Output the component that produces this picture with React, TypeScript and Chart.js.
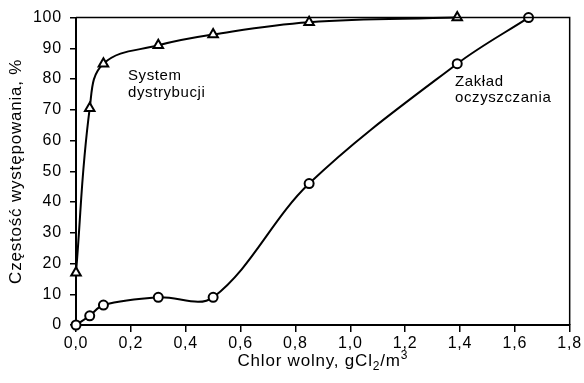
import React, { useEffect, useRef } from "react";
import { Chart, registerables } from "chart.js";

Chart.register(...registerables);

const distX = [0, 0.05, 0.1, 0.3, 0.5, 0.85, 1.39];
const distY = [17, 70.5, 85, 91, 94.5, 98.5, 100];
const plantX = [0, 0.05, 0.1, 0.3, 0.5, 0.85, 1.39, 1.65];
const plantY = [0, 3, 6.5, 9, 9, 46, 85, 100];
const xTicks = [0, 0.2, 0.4, 0.6, 0.8, 1.0, 1.2, 1.4, 1.6, 1.8];
const yTicks = [0, 10, 20, 30, 40, 50, 60, 70, 80, 90, 100];
const distLabel = ["System", "dystrybucji"];
const plantLabel = ["Zakład", "oczyszczania"];
const yTitle = "Częstość występowania, %";

const FONT = "'Liberation Sans', Arial, Helvetica, sans-serif";

export default function App() {
  const ref = useRef<HTMLCanvasElement>(null);
  useEffect(() => {
    document.body.style.margin = "0";
    const canvas = ref.current!;
    const deco = {
      id: "deco",
      beforeLayout(chart: any) {
        chart.ctx.letterSpacing = "0.8px";
      },
      beforeDraw(chart: any) {
        chart.ctx.letterSpacing = "0.8px";
      },
      afterDraw(chart: any) {
        const { ctx, chartArea: a } = chart;
        ctx.save();
        ctx.strokeStyle = "#000";
        ctx.lineWidth = 1.5;
        ctx.beginPath();
        ctx.moveTo(a.left, a.top);
        ctx.lineTo(a.right, a.top);
        ctx.lineTo(a.right, a.bottom);
        ctx.stroke();
        ctx.fillStyle = "#000";
        ctx.letterSpacing = "0.6px";
        // annotations
        ctx.font = `15px ${FONT}`;
        ctx.textAlign = "left";
        ctx.textBaseline = "alphabetic";
        ctx.fillText(distLabel[0], 128, 80);
        ctx.fillText(distLabel[1], 128, 97);
        ctx.fillText(plantLabel[0], 455, 86);
        ctx.fillText(plantLabel[1], 455, 102);
        // y title
        ctx.letterSpacing = "0.8px";
        ctx.font = `17px ${FONT}`;
        ctx.save();
        ctx.translate(16, (a.top + a.bottom) / 2);
        ctx.rotate(-Math.PI / 2);
        ctx.textAlign = "center";
        ctx.textBaseline = "middle";
        ctx.fillText(yTitle, 0, 0);
        ctx.restore();
        // x title with sub/superscript
        const parts: [string, number, number][] = [
          ["Chlor wolny, gCl", 17, 0],
          ["2", 12, 4],
          ["/m", 17, 0],
          ["3", 12, -7],
        ];
        let total = 0;
        for (const [t, s] of parts) {
          ctx.font = `${s}px ${FONT}`;
          total += ctx.measureText(t).width;
        }
        let x = (a.left + a.right) / 2 - total / 2;
        const base = 366;
        ctx.textAlign = "left";
        ctx.textBaseline = "alphabetic";
        for (const [t, s, dy] of parts) {
          ctx.font = `${s}px ${FONT}`;
          ctx.fillText(t, x, base + dy);
          x += ctx.measureText(t).width;
        }
        ctx.restore();
      },
    };
    const mk = (xs: number[], ys: number[]) => xs.map((x, i) => ({ x, y: ys[i] }));
    const chart = new Chart(canvas, {
      type: "line",
      data: {
        datasets: [
          {
            data: mk(distX, distY),
            borderColor: "#000",
            borderWidth: 2,
            tension: 0.4,
            pointStyle: "triangle",
            pointRadius: 5.5,
            pointBorderWidth: 2,
            pointBackgroundColor: "#fff",
            pointBorderColor: "#000",
            clip: false as any,
          },
          {
            data: mk(plantX, plantY),
            borderColor: "#000",
            borderWidth: 2,
            tension: 0.35,
            pointStyle: "circle",
            pointRadius: 4.5,
            pointBorderWidth: 2,
            pointBackgroundColor: "#fff",
            pointBorderColor: "#000",
            clip: false as any,
          },
        ],
      },
      options: {
        animation: false,
        responsive: false,
        layout: { padding: { top: 15, right: 14, left: 0, bottom: 0 } },
        plugins: { legend: { display: false }, tooltip: { enabled: false } },
        scales: {
          x: {
            type: "linear",
            min: 0,
            max: 1.8,
            afterFit: (s: any) => {
              s.height = 58;
            },
            afterBuildTicks: (s: any) => {
              s.ticks = xTicks.map((v) => ({ value: v }));
            },
            grid: { display: true, drawOnChartArea: false, drawTicks: true, tickLength: 7, color: "#000", lineWidth: 1.5 },
            border: { display: true, color: "#000", width: 2 },
            ticks: {
              color: "#000",
              font: { family: FONT, size: 16 },
              padding: 2,
              maxRotation: 0,
              callback: (v: any) => Number(v).toFixed(1).replace(".", ","),
            },
          },
          y: {
            type: "linear",
            min: 0,
            max: 100,
            afterFit: (s: any) => {
              s.width = 76;
            },
            afterBuildTicks: (s: any) => {
              s.ticks = yTicks.map((v) => ({ value: v }));
            },
            grid: { display: true, drawOnChartArea: false, drawTicks: true, tickLength: 6, color: "#000", lineWidth: 1.5 },
            border: { display: true, color: "#000", width: 2 },
            ticks: {
              color: "#000",
              font: { family: FONT, size: 16 },
              padding: 8,
              callback: (v: any) => String(v),
            },
          },
        },
      },
      plugins: [deco],
    });
    return () => chart.destroy();
  }, []);
  return (
    <div style={{ width: 584, height: 383, position: "relative", background: "#fff" }}>
      <canvas ref={ref} width={584} height={383} />
    </div>
  );
}
